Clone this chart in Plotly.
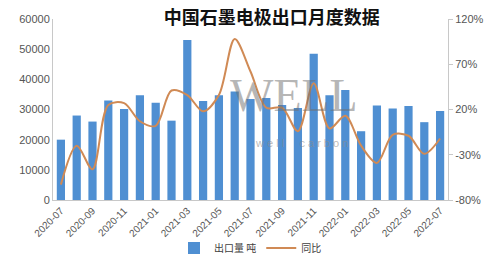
import plotly.graph_objects as go

months = ["2020-07","2020-08","2020-09","2020-10","2020-11","2020-12",
          "2021-01","2021-02","2021-03","2021-04","2021-05","2021-06",
          "2021-07","2021-08","2021-09","2021-10","2021-11","2021-12",
          "2022-01","2022-02","2022-03","2022-04","2022-05","2022-06","2022-07"]
export_t = [20000, 28000, 26000, 33000, 30200, 34700,
            32200, 26300, 53000, 32800, 34700, 36000,
            33500, 33800, 31500, 30500, 48500, 34700,
            36500, 22800, 31300, 30300, 31200, 25800, 29500]
yoy = [-63, -20, -46, 25, 27, 7,
       2, 41, 36, 18, 36, 98,
       62, 22, 22, -4, 49, -1,
       13, -20, -39, -8, -9, -29, -12]
tick_months = months[::2]
left_ticks = [0, 10000, 20000, 30000, 40000, 50000, 60000]
right_ticks = [-80, -30, 20, 70, 120]

fig = go.Figure()
fig.add_trace(go.Bar(x=months, y=export_t, name="出口量 吨",
                     marker=dict(color="#4f8fd2", line=dict(width=0))))
fig.add_trace(go.Scatter(x=months, y=yoy, name="同比", yaxis="y2", mode="lines",
                         line=dict(color="#d08a55", width=2, shape="spline", smoothing=0.9)))

fig.update_layout(
    width=494, height=275,
    margin=dict(l=53, r=46, t=19, b=64),
    paper_bgcolor="white", plot_bgcolor="white",
    font=dict(family="Noto Sans CJK SC", color="#404040"),
    bargap=0.48,
    showlegend=True,
    legend=dict(orientation="h", x=0.5, xanchor="center", y=-0.265, yanchor="middle",
                font=dict(size=10, color="#404040"),
                bgcolor="rgba(0,0,0,0)"),
    title=dict(text="<b>中国石墨电极出口月度数据</b>", x=0.55, xanchor="center",
               y=0.935, yanchor="middle",
               font=dict(size=18, color="#111111", family="Noto Sans CJK SC")),
    xaxis=dict(type="category", tickmode="array", tickvals=tick_months, ticktext=tick_months,
               tickangle=-45, tickfont=dict(size=10, color="#555555", family="Liberation Sans"),
               showline=True, linecolor="#c8c8c8", showgrid=False, ticks="", automargin=False),
    yaxis=dict(range=[0, 60000], tickmode="array", tickvals=left_ticks,
               ticktext=[str(v) for v in left_ticks], showgrid=False, zeroline=False,
               showline=True, linecolor="#c8c8c8",
               tickfont=dict(size=11, color="#555555", family="Liberation Sans"),
               ticks="", automargin=False),
    yaxis2=dict(range=[-80, 120], tickmode="array", tickvals=right_ticks,
                ticktext=[f"{v}%" for v in right_ticks], overlaying="y",
                side="right", showgrid=False, zeroline=False, showline=True,
                linecolor="#c8c8c8", ticks="outside", ticklen=4, tickcolor="#c8c8c8",
                tickfont=dict(size=11, color="#555555", family="Liberation Sans"),
                automargin=False),
)

# faint watermark
fig.add_annotation(text="WELL", xref="paper", yref="paper", x=0.61, y=0.58,
                   showarrow=False, font=dict(size=46, color="rgba(110,110,110,0.5)",
                   family="Liberation Serif"))
fig.add_annotation(text="w e l l     c a r b o n", xref="paper", yref="paper", x=0.63, y=0.27,
                   showarrow=False, font=dict(size=11, color="rgba(140,140,140,0.6)",
                   family="Liberation Sans"))

fig.write_html("out.html")
